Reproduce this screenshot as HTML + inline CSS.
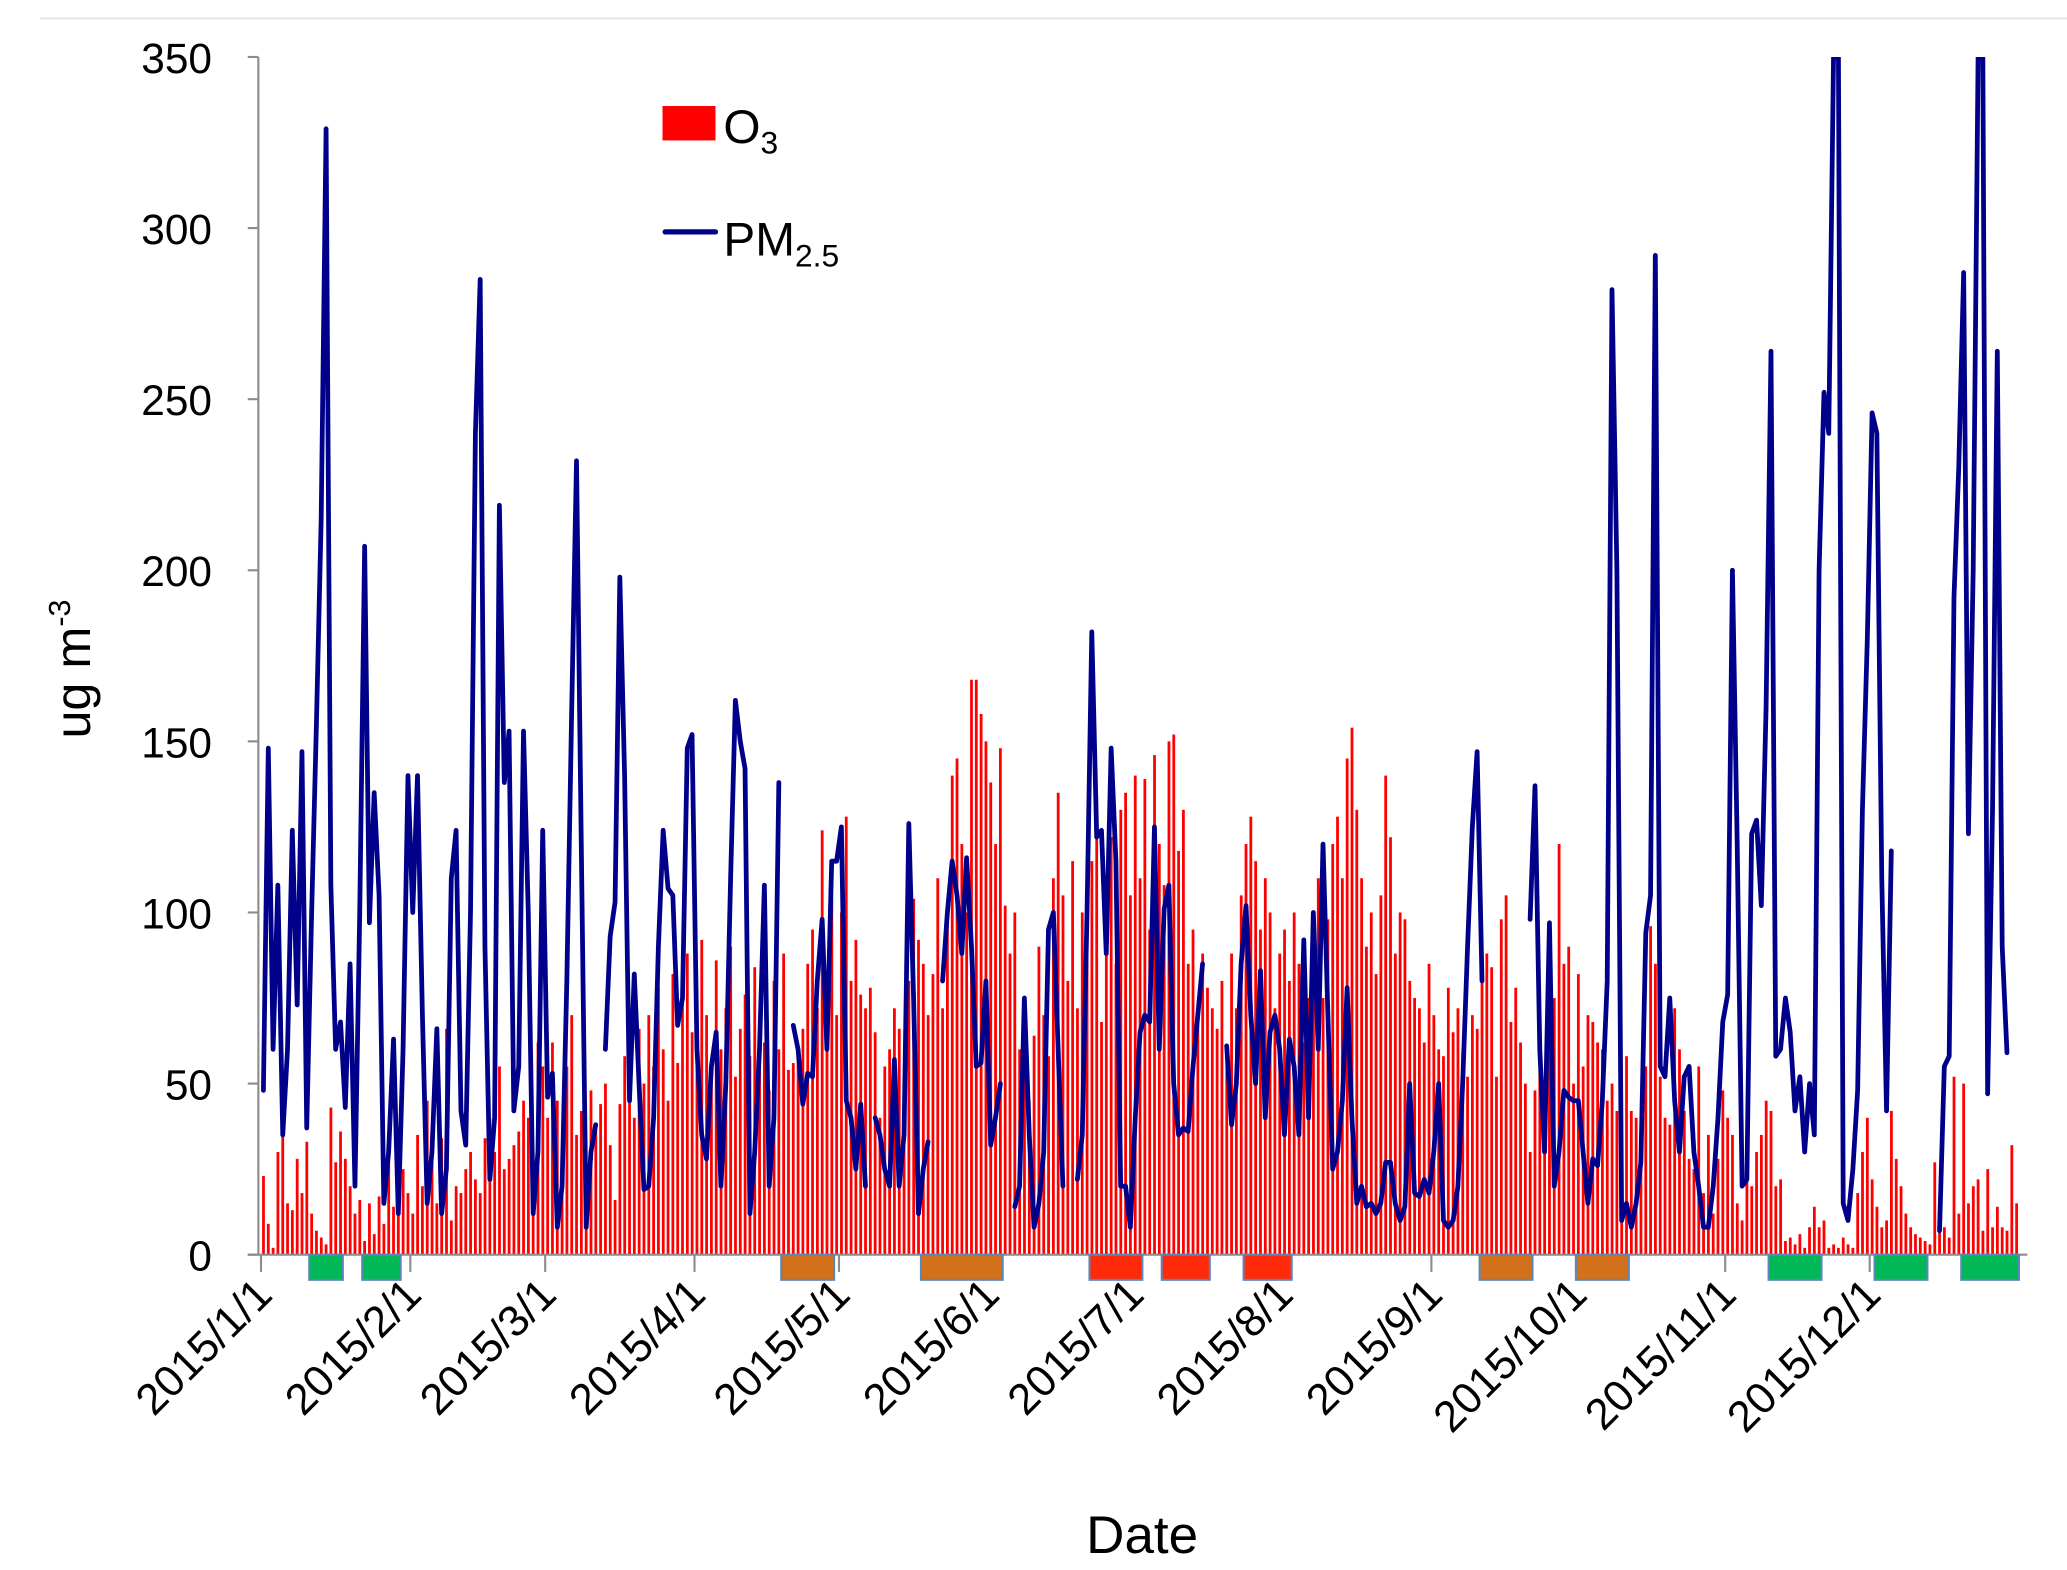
<!DOCTYPE html>
<html><head><meta charset="utf-8"><style>
html,body{margin:0;padding:0;background:#fff;}
svg{display:block;font-family:"Liberation Sans",sans-serif;}
</style></head><body>
<svg id="chart" width="2067" height="1570" viewBox="0 0 1560 1185" preserveAspectRatio="none" xmlns="http://www.w3.org/2000/svg">
<defs><clipPath id="plotclip"><rect x="195" y="43" width="1340" height="904"/></clipPath></defs>
<line x1="30" y1="14" x2="1560" y2="14" stroke="#e4e4e4" stroke-width="1.5"/>
<g id="bars" clip-path="url(#plotclip)"></g>
<g id="line" clip-path="url(#plotclip)"></g>
<g id="axes"></g>
<g id="episodes"></g>
<text transform="translate(68,505) rotate(-90)" text-anchor="middle" font-size="38" fill="#000">ug m<tspan dy="-15" font-size="23">-3</tspan></text>
<text x="862" y="1172" text-anchor="middle" font-size="40" fill="#000">Date</text>
<g>
  <rect x="500" y="80" width="40" height="26" fill="#ff0000"/>
  <text x="546" y="108" font-size="36">O<tspan dy="8" font-size="24">3</tspan></text>
  <line x1="502" y1="175" x2="540" y2="175" stroke="#00008b" stroke-width="4" stroke-linecap="round"/>
  <text x="546" y="193" font-size="36">PM<tspan dy="8" font-size="24">2.5</tspan></text>
</g>
</svg>
<script>
const o3Jan=[23,9,2,30,35,15,13,28,18,33,12,7,5,3,43,27,36,28,20,12,16,4,15,6,17,9,28,14,30,25,18];
const o3Feb=[12,35,20,45,28,15,34,66,10,20,18,25,30,22,18,34,40,30,55,25,28,32,36,45,40,30,62,55];
const o3Mar=[40,62,45,30,55,70,35,42,26,48,38,44,50,32,16,44,58,62,40,66,50,70,55,78,60,45,82,56,74,88,65];
const o3Apr=[78,92,70,55,86,60,72,90,52,66,76,58,84,70,62,48,80,60,88,54,56,60,66,85,95,72,124,60,104,70];
const o3May=[100,128,80,92,76,72,78,65,40,55,60,72,66,50,80,104,92,85,70,82,110,72,98,140,145,120,100,168,168,158,150];
const o3Jun=[138,120,148,102,88,100,60,75,45,64,90,70,58,110,135,105,80,115,72,100,98,115,134,68,100,122,85,130,135,105];
const o3Jul=[140,110,139,95,146,120,108,150,152,118,130,85,95,70,88,78,72,66,80,60,88,72,105,120,128,115,95,110,100,72,88];
const o3Aug=[95,80,100,85,62,75,90,110,75,98,120,128,110,145,154,130,110,90,100,82,105,140,122,88,100,98,80,75,72,62,85];
const o3Sep=[70,60,58,78,65,72,60,52,70,66,90,88,84,52,98,105,68,78,62,50,30,48,60,45,65,75,120,85,90,50];
const o3Oct=[82,55,70,68,62,60,45,50,42,35,58,42,40,35,55,96,85,52,40,38,72,60,42,28,25,55,18,35,12,28,48];
const o3Nov=[40,35,15,10,25,20,30,35,45,42,20,22,4,5,3,6,2,8,14,8,10,2,3,2,5,3,2,18,30,40];
const o3Dec=[22,14,8,10,42,28,20,12,8,6,5,4,3,27,10,8,5,52,12,50,15,20,22,7,25,8,14,8,7,32,15];

const pmJan=[48,148,60,108,35,60,124,73,147,37,100,155,215,329,108,60,68,43,85,20,100,207,97,135,105,15,30,63,12,60,140];
const pmFeb=[100,140,70,15,30,66,12,25,110,124,42,32,100,240,285,90,22,40,219,138,153,42,55,153,100,12,30,124];
const pmMar=[46,53,8,20,80,160,232,120,8,30,38,null,60,93,103,198,140,45,82,50,19,20,40,90,124,107,105,67,75,148,152];
const pmApr=[60,35,28,55,65,20,50,110,162,150,142,12,30,60,108,20,40,138,null,null,67,60,44,53,52,80,98,60,115,115];
const pmMay=[125,45,40,25,44,20,null,40,35,25,20,57,20,35,126,75,12,25,33,null,null,80,100,115,105,88,116,90,55,56,80];
const pmJun=[32,40,50,null,null,14,20,75,35,8,15,30,95,100,60,20,null,null,22,35,100,182,122,124,88,148,115,20,20,8];
const pmJul=[40,65,70,68,125,60,101,108,50,35,37,36,55,70,85,null,null,null,null,61,38,50,85,102,70,50,83,40,65,70,60];
const pmAug=[35,63,55,35,92,40,100,60,120,70,25,30,45,78,40,15,20,14,15,12,15,27,27,15,10,14,50,18,17,22,18];
const pmSep=[30,50,10,8,10,20,50,90,125,147,80,null,null,null,null,null,null,null,null,null,98,137,60,30,97,20,30,48,46,45];
const pmOct=[45,30,15,28,26,45,80,282,200,10,15,8,15,27,94,105,292,55,52,75,45,30,52,55,30,20,8,8,20,40,68];
const pmNov=[76,200,120,20,22,123,127,102,160,264,58,60,75,65,42,52,30,50,35,200,252,240,350,350,15,10,25,48,130,180];
const pmDec=[246,240,110,42,118,null,null,null,null,null,null,null,null,null,7,55,58,192,230,287,123,200,350,350,47,130,264,90,59,null,null];

const yTicks=[0,50,100,150,200,250,300,350];
const monthLabels=["2015/1/1","2015/2/1","2015/3/1","2015/4/1","2015/5/1","2015/6/1","2015/7/1","2015/8/1","2015/9/1","2015/10/1","2015/11/1","2015/12/1"];
const monthStartDays=[0,31,59,90,120,151,181,212,243,273,304,334];
const episodeStart=[10,21,108,137,172,187,204,253,273,313,335,353];
const episodeEnd=[17,29,119,154,183,197,214,264,284,324,346,365];
const episodeType=["clean","clean","mixed","mixed","o3","o3","o3","mixed","mixed","clean","clean","clean"];

const o3=[].concat(o3Jan,o3Feb,o3Mar,o3Apr,o3May,o3Jun,o3Jul,o3Aug,o3Sep,o3Oct,o3Nov,o3Dec);
const pm=[].concat(pmJan,pmFeb,pmMar,pmApr,pmMay,pmJun,pmJul,pmAug,pmSep,pmOct,pmNov,pmDec);

const NS="http://www.w3.org/2000/svg";
const X0=197, DX=3.635, Y0=947, YTOP=43, YMAX=350;
function xs(d){return X0+d*DX;}
function ys(v){return Y0-(v/YMAX)*(Y0-YTOP);}
function mk(tag,attrs,parent){const e=document.createElementNS(NS,tag);for(const k in attrs)e.setAttribute(k,attrs[k]);parent.appendChild(e);return e;}

const bars=document.getElementById('bars');
o3.forEach((v,i)=>{
  const r=mk('rect',{x:xs(i)+0.8,y:ys(v),width:2.1,height:Y0-ys(v),fill:'#ff0000'},bars);
  
  
});

const lineG=document.getElementById('line');
let seg=[];
function flush(){
  if(seg.length>1){
    const p=mk('polyline',{points:seg.join(' '),fill:'none',stroke:'#00008b','stroke-width':3.6,'stroke-linejoin':'round','stroke-linecap':'round'},lineG);
    
    
  }
  seg=[];
}
pm.forEach((v,i)=>{
  if(v===null){flush();return;}
  seg.push(xs(i+0.5).toFixed(1)+','+ys(v).toFixed(1));
});
flush();

const axes=document.getElementById('axes');
const ya=mk('line',{x1:195,y1:YTOP,x2:195,y2:Y0,stroke:'#8c8c8c','stroke-width':1.6},axes);


const xa=mk('line',{x1:187,y1:Y0,x2:1530,y2:Y0,stroke:'#8c8c8c','stroke-width':1.6},axes);


yTicks.forEach(t=>{
  const y=ys(t);
  const tk=mk('line',{x1:187,y1:y,x2:195,y2:y,stroke:'#8c8c8c','stroke-width':1.6},axes);
  
  
  const tx=mk('text',{x:160,y:y+12,'text-anchor':'end','font-size':32,fill:'#000'},axes);
  tx.textContent=t;
  
  
});
monthStartDays.forEach((d,i)=>{
  const x=xs(d);
  const tk=mk('line',{x1:x,y1:Y0,x2:x,y2:Y0+13,stroke:'#8c8c8c','stroke-width':1.6},axes);
  
  
  const tx=mk('text',{transform:`translate(${x+10},${Y0+32}) rotate(-45)`,'text-anchor':'end','font-size':33,fill:'#000'},axes);
  tx.textContent=monthLabels[i];
  
  
});

const epiColors={clean:'#00b956',mixed:'#d2711a',o3:'#ff2a0a'};
const epG=document.getElementById('episodes');
episodeStart.forEach((s,i)=>{
  const r=mk('rect',{x:xs(s),y:Y0,width:xs(episodeEnd[i])-xs(s),height:19,fill:epiColors[episodeType[i]],stroke:'#5b87b8','stroke-width':1.5},epG);
  
  
});
</script>
</body></html>
